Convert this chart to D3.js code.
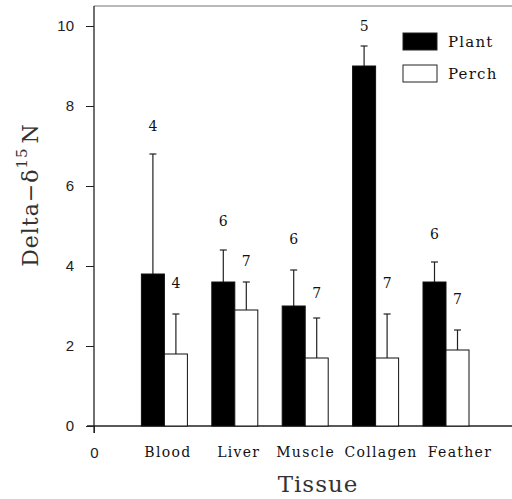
<!DOCTYPE html>
<html>
<head>
<meta charset="utf-8">
<style>
body { margin: 0; background: #fff; }
.axis .domain { display: none; }
.axis text { font-family: "Liberation Sans", Arial, sans-serif; font-size: 15px; fill: #222; }
.serif { font-family: "DejaVu Serif", serif; fill: #111; }
</style>
</head>
<body>
<svg width="512" height="499"></svg>
<script src="https://d3js.org/d3.v7.min.js"></script>
<script>
var tissues = ["Blood", "Liver", "Muscle", "Collagen", "Feather"];
var series = ["Plant", "Perch"];
var plantMean = [3.8, 3.6, 3.0, 9.0, 3.6];
var plantErr  = [6.8, 4.4, 3.9, 9.5, 4.1];
var plantN    = [4, 6, 6, 5, 6];
var perchMean = [1.8, 2.9, 1.7, 1.7, 1.9];
var perchErr  = [2.8, 3.6, 2.7, 2.8, 2.4];
var perchN    = [4, 7, 7, 7, 7];
var yTicks = [0, 2, 4, 6, 8, 10];

var svg = d3.select("svg");
var x = d3.scaleLinear().domain([0, 6]).range([94, 516.4]);
var y = d3.scaleLinear().domain([0, 10.5]).range([426, 6]);
var barW = 23;

var rows = [];
tissues.forEach(function(t, i) {
  rows.push({key: "Plant", pos: i + 1, off: -barW, mean: plantMean[i], err: plantErr[i], n: plantN[i]});
  rows.push({key: "Perch", pos: i + 1, off: 0, mean: perchMean[i], err: perchErr[i], n: perchN[i]});
});
// small nudges (px) to follow the hand placement of the original labels
var nudge = [0, -3, -1, 7, -3, 3, 8, -3, 0, -3];
var catShift = [3.5, 4, 0.5, 5.5, 14];

// frame
svg.append("line").attr("x1", 94).attr("x2", 512).attr("y1", y(10.5)).attr("y2", y(10.5))
  .attr("stroke", "#777").attr("stroke-width", 1.2);
svg.append("line").attr("x1", 94).attr("x2", 94).attr("y1", y(10.5)).attr("y2", 433)
  .attr("stroke", "#222").attr("stroke-width", 1.3);
svg.append("line").attr("x1", 87).attr("x2", 512).attr("y1", y(0)).attr("y2", y(0))
  .attr("stroke", "#222").attr("stroke-width", 1.3);

svg.append("g").attr("class", "axis")
  .attr("transform", "translate(94,0)")
  .call(d3.axisLeft(y).tickValues(yTicks).tickSize(8).tickPadding(12).tickFormat(d3.format("d")))
  .selectAll("line").attr("stroke", "#222");

svg.append("g").attr("class", "axis")
  .attr("transform", "translate(0," + y(0) + ")")
  .call(d3.axisBottom(x).tickValues([0]).tickSize(7).tickPadding(14).tickFormat(d3.format("d")))
  .selectAll("line").attr("stroke", "#222");

// category labels
svg.append("g").selectAll("text").data(tissues).enter().append("text")
  .attr("class", "serif")
  .attr("x", function(d, i) { return x(i + 1) + catShift[i]; })
  .attr("y", 457)
  .attr("text-anchor", "middle")
  .attr("font-size", 14)
  .attr("letter-spacing", 1.3)
  .text(function(d) { return d; });

// error bars
var eb = svg.append("g").attr("stroke", "#222").attr("stroke-width", 1.2);
eb.selectAll("line.v").data(rows).enter().append("line")
  .attr("x1", function(d) { return x(d.pos) + d.off + barW / 2; })
  .attr("x2", function(d) { return x(d.pos) + d.off + barW / 2; })
  .attr("y1", function(d) { return y(d.mean); })
  .attr("y2", function(d) { return y(d.err); });
eb.selectAll("line.c").data(rows).enter().append("line")
  .attr("x1", function(d) { return x(d.pos) + d.off + barW / 2 - 3.5; })
  .attr("x2", function(d) { return x(d.pos) + d.off + barW / 2 + 3.5; })
  .attr("y1", function(d) { return y(d.err); })
  .attr("y2", function(d) { return y(d.err); });

// bars
svg.append("g").selectAll("rect").data(rows).enter().append("rect")
  .attr("x", function(d) { return x(d.pos) + d.off; })
  .attr("y", function(d) { return y(d.mean); })
  .attr("width", barW)
  .attr("height", function(d) { return y(0) - y(d.mean); })
  .attr("fill", function(d) { return d.key === "Plant" ? "#000" : "#fff"; })
  .attr("stroke", "#111")
  .attr("stroke-width", 1);

// sample sizes
svg.append("g").selectAll("text").data(rows).enter().append("text")
  .attr("class", "serif")
  .attr("x", function(d) { return x(d.pos) + d.off + barW / 2; })
  .attr("y", function(d, i) { return y(d.err) - 23 + nudge[i]; })
  .attr("text-anchor", "middle")
  .attr("font-size", 14)
  .text(function(d) { return d.n; });

// legend
var legend = svg.append("g").selectAll("g").data(series).enter().append("g")
  .attr("transform", function(d, i) { return "translate(403," + (33 + i * 32) + ")"; });
legend.append("rect")
  .attr("width", 34).attr("height", 17)
  .attr("fill", function(d) { return d === "Plant" ? "#000" : "#fff"; })
  .attr("stroke", "#222").attr("stroke-width", 1);
legend.append("text")
  .attr("class", "serif")
  .attr("x", 45).attr("y", 14)
  .attr("font-size", 15)
  .attr("letter-spacing", 1.2)
  .text(function(d) { return d; });

// axis titles
svg.append("text")
  .attr("class", "serif")
  .attr("x", 318).attr("y", 492)
  .attr("text-anchor", "middle")
  .attr("font-size", 23)
  .attr("letter-spacing", 1)
  .style("fill", "#333")
  .text("Tissue");

var yl = svg.append("text")
  .attr("class", "serif")
  .attr("transform", "translate(38,195) rotate(-90)")
  .attr("text-anchor", "middle")
  .attr("font-size", 22)
  .attr("letter-spacing", 1)
  .style("fill", "#333");
yl.append("tspan").text("Delta\u2212\u03b4");
yl.append("tspan").attr("dy", -11).attr("font-size", 15).text("15");
yl.append("tspan").attr("dy", 11).attr("dx", 4).text("N");
</script>
</body>
</html>
